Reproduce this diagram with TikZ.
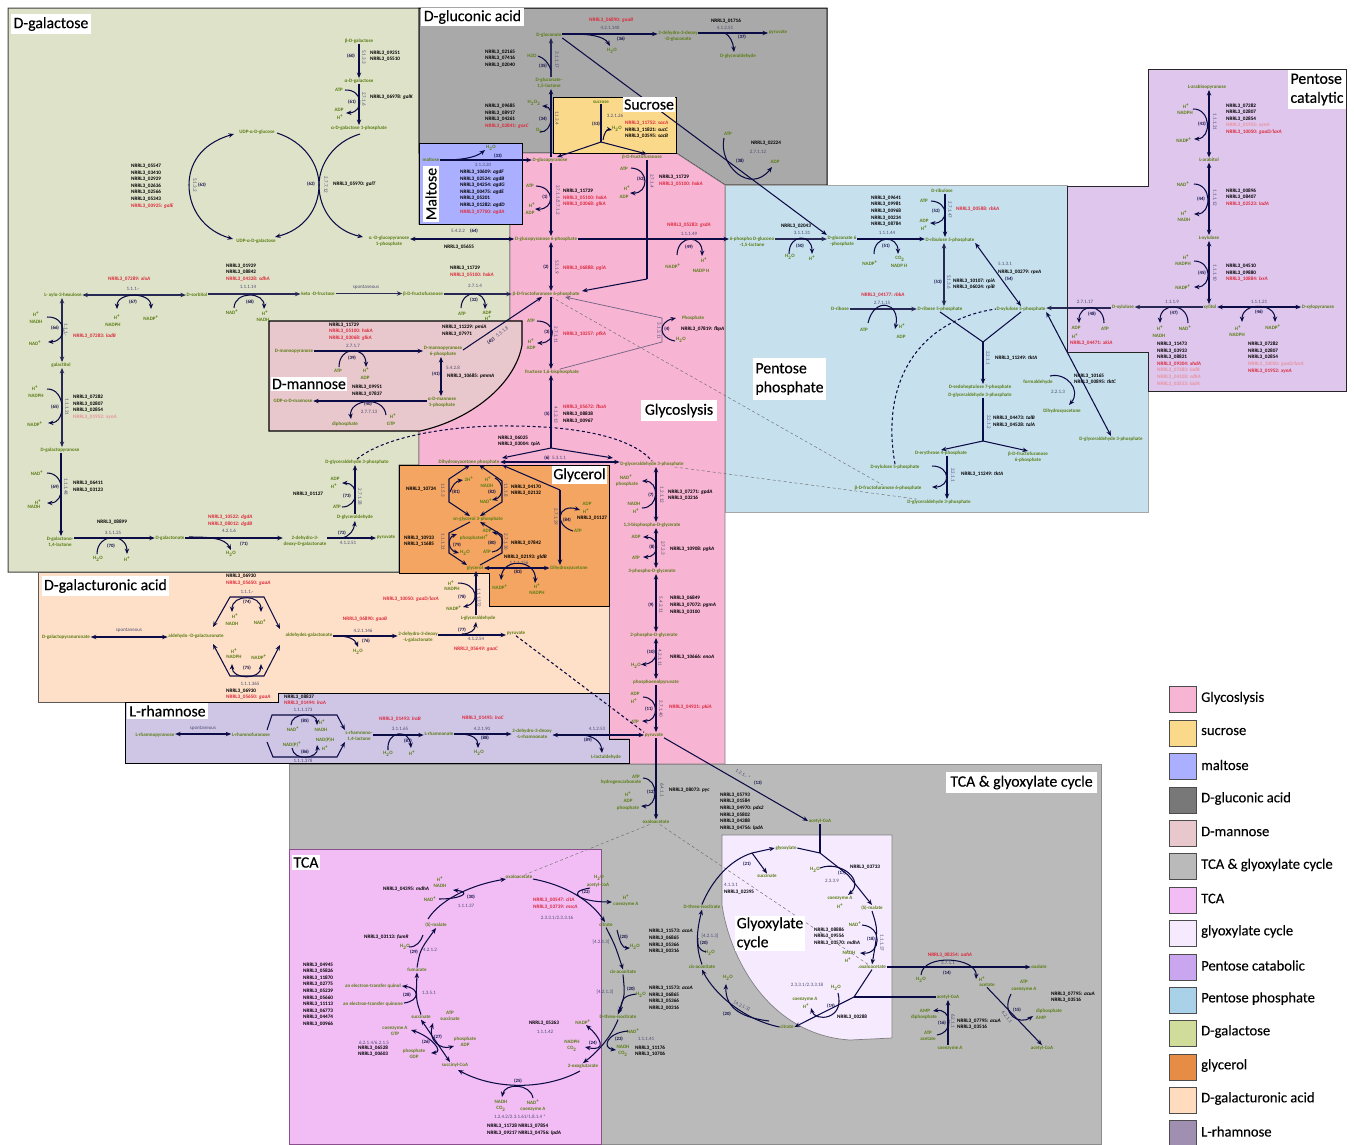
\documentclass[tikz,border=0pt]{standalone}
\usepackage{fontspec}
\setmainfont{Carlito}
\newfontfamily\ttfnt[FakeBold=0.3]{Carlito}
\newfontfamily\lgfnt[FakeBold=0.12]{Carlito}
\usetikzlibrary{arrows.meta,calc}
\definecolor{navy}{HTML}{0B0B45}
\definecolor{grn}{HTML}{5A7D14}
\definecolor{ecc}{HTML}{4C4C72}
\definecolor{redd}{HTML}{DC2A3C}
\definecolor{pale}{HTML}{E9929E}
\definecolor{cgal}{HTML}{DEE2C8}
\definecolor{cglu}{HTML}{A9A9A9}
\definecolor{csuc}{HTML}{FBD98A}
\definecolor{cmal}{HTML}{AAB0FF}
\definecolor{cpin}{HTML}{F7B4D3}
\definecolor{cppp}{HTML}{C7E0EE}
\definecolor{ccat}{HTML}{DEC6EC}
\definecolor{cman}{HTML}{E8C8CC}
\definecolor{cgly}{HTML}{F3A561}
\definecolor{cgua}{HTML}{FEDFC7}
\definecolor{crha}{HTML}{CFC6E6}
\definecolor{ctgc}{HTML}{BABABA}
\definecolor{ctca}{HTML}{F1BDF4}
\definecolor{cglx}{HTML}{F5EAFE}
\definecolor{lglu}{HTML}{787878}
\definecolor{lcat}{HTML}{C9A6EF}
\definecolor{lppp}{HTML}{A9D2E8}
\definecolor{lgal}{HTML}{D0DC9A}
\definecolor{lgly}{HTML}{E68C44}
\definecolor{lgua}{HTML}{FFDCBD}
\definecolor{lrha}{HTML}{A08FB0}
\newcount\nn
\newcommand\stp{\global\advance\nn by 1\relax}
\newcommand\Met[3]{\node[met] (#1) at (#2) {#3};}
\newcommand\Cfx[2]{\stp\node[met] (n\the\nn) at (#1) {#2};}
\newcommand\Gen[2]{\stp\node[gene] (n\the\nn) at (#1) {#2};}
\newcommand\GenC[2]{\stp\node[gene,anchor=center] (n\the\nn) at (#1) {#2};}
\newcommand\Ecn[2]{\stp\node[ecn] (n\the\nn) at (#1) {#2};}
\newcommand\Ecv[2]{\stp\node[ecn,rotate=-90] (n\the\nn) at (#1) {#2};}
\newcommand\Rxn[2]{\stp\node[rxn] (n\the\nn) at (#1) {(#2)};}
\newcommand\Hz[4]{\draw[#4] (#2.east |- 0,#1) -- (#3.west |- 0,#1);}
\newcommand\Vt[4]{\draw[#4] (#2.south -| #1,0) -- (#3.north -| #1,0);}
\newcommand\Arcb[4]{\stp\coordinate (s\the\nn) at (#1);\coordinate (e\the\nn) at (#2);
 \draw[#4] (s\the\nn) .. controls ($(s\the\nn)!#3!90:(e\the\nn)$) and ($(e\the\nn)!#3!-90:(s\the\nn)$) .. (e\the\nn);}
\newcommand\Curv[5]{\stp\coordinate (s\the\nn) at (#1);\coordinate (e\the\nn) at (#4);
 \draw[#5] (s\the\nn) .. controls (#2) and (#3) .. (e\the\nn);}
\newcommand\Ttl[5]{\node[ttl,minimum width=#3pt,minimum height=#4pt] (#1) at (#2) {#5};}
\newcommand\Nr[1]{NRRL3\_#1}
\newcommand\Gi[2]{NRRL3\_#1: \textit{#2}}
\newcommand\Rd[1]{\textcolor{redd}{#1}}
\newcommand\Pa[1]{\textcolor{pale}{#1}}
\newcommand\Hp{H\textsuperscript{+}}
\newcommand\NDp{NAD\textsuperscript{+}}
\newcommand\NPp{NADP\textsuperscript{+}}
\newcommand\Hw{H\textsubscript{2}O}
\newcommand\COt{CO\textsubscript{2}}
\newcommand\Leg[3]{\stp\node[lsw,fill=#2] (n\the\nn) at (1182.5,#1) {};\stp\node[ltx] (n\the\nn) at (1201,#1-1.5) {#3};}
\tikzset{
 >={Stealth[length=5.5pt,width=4.4pt]},
 met/.style={text=grn,font=\fontsize{5}{6.2}\selectfont\bfseries,align=center,inner sep=.8pt,outer sep=0pt},
 gene/.style={text=black,font=\fontsize{5.2}{6.6}\selectfont\bfseries,align=left,anchor=west,inner sep=0pt},
 ecn/.style={text=ecc,font=\fontsize{5}{6}\selectfont,inner sep=0pt},
 rxn/.style={text=navy,font=\fontsize{4.8}{6}\selectfont\bfseries,inner sep=0pt},
 ttl/.style={fill=white,text=black,font=\fontsize{15.8}{19}\ttfnt,align=left,inner sep=1pt},
 lsw/.style={draw=black!70,line width=.5pt,minimum width=27pt,minimum height=26pt,inner sep=0pt},
 ltx/.style={font=\fontsize{14.6}{17}\lgfnt,anchor=west,inner sep=0pt},
 conn/.style={draw=navy,line width=1.05pt},
 fw/.style={conn,->},
 bw/.style={conn,<-},
 bi/.style={conn,<->},
 pl/.style={conn},
 th/.style={line width=1.4pt,draw=navy!75!gray},
 dsh/.style={conn,dash pattern=on 3pt off 2.5pt},
 pd/.style={draw=gray!85!black,line width=.45pt,dash pattern=on 3pt off 2.5pt},
 pv/.style={draw=ecc!80!pink,line width=.7pt},
 pvf/.style={pv,->},
}
\begin{document}
\begin{tikzpicture}[x=1pt,y=-1pt]
\useasboundingbox (0,0) rectangle (1354,1144);
% ---------- regions ----------
\draw[fill=cgal,draw=black!75,line width=1pt] (8,8)--(419,8)--(419,224)--(510,224)--(510,330)--(419,431)--(419,465)--(399,465)--(399,572)--(8,572)--cycle;
\draw[fill=cglu,draw=black,line width=1pt] (419,8)--(827,8)--(827,185)--(725,185)--(676,153)--(419,153)--cycle;
\draw[fill=ctgc,draw=black!45,line width=.8pt] (289,764)--(1101,764)--(1101,1144)--(289,1144)--cycle;
\draw[fill=cppp,draw=black!35,line width=.8pt] (725,185)--(1067,185)--(1067,352)--(1148,352)--(1148,512)--(725,512)--cycle;
\draw[fill=cpin,draw=black!50,line width=.7pt] (510,224)--(510,153)--(676,153)--(725,185)--(725,764)--(629,764)--(629,739)--(609,739)--(609,606)--(419,606)--(419,431)--(510,330)--cycle;
\draw[fill=ccat,draw=black!85,line width=1pt] (1148,69)--(1346,69)--(1346,391)--(1148,391)--(1148,352)--(1067,352)--(1067,186)--(1148,186)--cycle;
\draw[fill=cman,draw=black,line width=1.1pt] (269,321)--(522,321)--(522,345) .. controls (515,385) and (470,420) .. (420,431)--(269,431)--cycle;
\draw[fill=csuc,draw=black,line width=1pt] (553,97) rectangle (676,153);
\draw[fill=cmal,draw=black,line width=1pt] (419.5,143) rectangle (522,224);
\draw[fill=cgua,draw=black!65,line width=1pt] (38,572)--(489,572)--(489,606)--(609,606)--(609,702)--(38,702)--cycle;
\draw[fill=crha,draw=black,line width=1pt] (125,702)--(278,702)--(278,693.5)--(609,693.5)--(609,739)--(629,739)--(629,763)--(125,763)--cycle;
\draw[fill=cgly,draw=black,line width=1pt] (399,465)--(609,465)--(609,606)--(489,606)--(489,573)--(399,573)--cycle;
\draw[fill=ctca,draw=black!40!ctca!70!violet,line width=.8pt] (289,849)--(601,849)--(601,1144)--(289,1144)--cycle;
\draw[fill=cglx,draw=black!50,line width=.7pt] (722,835)--(892,835)--(892,1038)--(850,1040) .. controls (770,1035) and (730,960) .. (722,905)--cycle;
% ---------- D-galactose ----------
\Met{bgal}{359,41}{β-D-galactose}
\Met{agal}{359,81}{α-D-galactose}
\Met{agalp}{359,128}{α-D-galactose 1-phosphate}
\Cfx{339,90}{ATP}\Cfx{339,110}{ADP}\Cfx{340,117}{\Hp}
\Gen{370,56}{\Nr{09251}\\\Nr{05510}}
\Ecv{364,57}{5.1.3.3}\Rxn{351,56}{60}\Rxn{352,102}{61}
\Gen{370,97}{\Gi{06978}{galK}}\Ecv{364,99}{2.7.1.6}
\Met{udpglc}{257,132}{UDP-α-D-glucose}
\Met{udpgal}{256,241}{UDP-α-D-galactose}
\Met{aglcp}{389,241}{α -D-glucopyranose\\1-phosphate}
\Rxn{311,184}{62}\Ecv{326,185}{2.7.7.12}\Gen{333,184}{\Gi{05970}{galT}}
\Rxn{202,185}{63}\Ecv{195,185}{5.1.3.2}
\Gen{131,186}{\Nr{05547}\\\Nr{03410}\\\Nr{02929}\\\Nr{02636}\\\Nr{02566}\\\Nr{05343}\\\Rd{\Gi{00925}{galE}}}
\Met{xylo}{63,295}{L- xylo-3-hexulose}
\Met{sorb}{197,295}{D-sorbitol}
\Met{keto}{318,294}{keto -D-fructose}
\Met{bfru}{423,294}{β-D-fructofuranose}
\Ecn{133,289}{1.1.1.-}\Gen{108,279}{\Rd{\Gi{07289}{xlxA}}}
\Cfx{117,317}{\Hp}\Cfx{113,325}{NADPH}\Cfx{151,318}{\NPp}\Rxn{133,302}{67}
\Ecn{248,287}{1.1.1.14}\Gen{226,272.5}{\Nr{01929}\\\Nr{08842}\\\Rd{\Gi{04328}{sdhA}}}
\Cfx{232,312}{\NDp}\Cfx{265,313}{\Hp}\Cfx{263,320}{NADH}\Rxn{250,302}{68}
\Ecn{366,287}{spontaneous}
\Met{galol}{61,365}{galactitol}
\Ecv{66,330}{1.1.1.-}\Rxn{55,328}{66}\Gen{73,336}{\Rd{\Gi{07283}{ladB}}}
\Cfx{36,314}{\Hp}\Cfx{36,322}{NADH}\Cfx{35,343}{\NDp}
\Met{galp}{60,450}{D-galactopyranose}
\Ecv{67,407}{1.1.1.21}\Rxn{55,407}{65}
\Cfx{35,388}{\Hp}\Cfx{36,396}{NADPH}\Cfx{35,424}{\NPp}
\Gen{73,407}{\Nr{07282}\\\Nr{02807}\\\Nr{02854}\\\Pa{\Gi{01952}{xynA}}}
\Met{galac}{60,542}{D-galactono-\\1,4-lactone}
\Ecv{66,487}{1.1.1.48}\Rxn{55,487}{69}
\Cfx{37,473}{\NDp}\Cfx{38,502}{\Hp}\Cfx{34,507}{NADH}
\Gen{73,486.5}{\Nr{06411}\\\Nr{03123}}
\Met{galn}{170,538}{D-galactonate}
\Ecn{113,533}{3.1.1.25}\GenC{112,522}{\Nr{08899}}\Rxn{111,546}{70}
\Cfx{98,559}{\Hw}\Cfx{127,559}{\Hp}
\Met{ddg}{305,541}{2-dehydro-3-\\deoxy-D-galactonate}
\Ecn{229,531}{4.2.1.6}\Gen{208,520.5}{\Rd{\Gi{10522}{dgdA}}\\\Rd{\Gi{08012}{dgdB}}}
\Rxn{244,544}{71}\Cfx{231,554}{\Hw}
\Met{pyr1}{386,537}{pyruvate}\Met{glya}{355,517}{D-glyceraldehyde}
\Ecn{348,543}{4.1.2.51}\Rxn{342,533}{72}
\Ecv{360,497}{2.7.1.28}\Rxn{347,496}{73}
\Cfx{335,479}{ADP}\Cfx{334,486}{\Hp}\Cfx{337,507}{ATP}\Gen{293,494}{\Nr{01127}}
\Met{g3pa}{357,462}{D-glyceraldehyde 3-phosphate}
% ---------- D-gluconic ----------
\Met{glcn}{549,35}{D-gluconate}
\Met{gluc}{550,160}{D-glucopyranose}
\Met{malt}{431,160}{maltose}
\Met{gl15}{549,83}{D-gluconate-\\1,5-lactone}
\Ecv{557,60}{3.1.1.17}\Cfx{532,56}{H2O}\Rxn{543,66}{35}
\Gen{485,58.5}{\Nr{02165}\\\Nr{07416}\\\Nr{02040}}
\Ecv{557,118}{1.1.3.4}\Rxn{543,119}{34}\Cfx{534,103}{H\textsubscript{2}O\textsubscript{2}}\Cfx{539,131}{O\textsubscript{2}}
\Gen{485,116}{\Nr{09685}\\\Nr{08917}\\\Nr{04261}\\\Rd{\Gi{02841}{goxC}}}
\Gen{589,20}{\Rd{\Gi{06890}{gaaB}}}\Ecn{610,28}{4.2.1.140}
\Met{ddgl}{678,36}{2-dehydro-3-deoxy\\-D-gluconate}
\Rxn{621,39}{36}\Cfx{612,51}{\Hw}
\Met{pyr2}{778,32}{pyruvate}\Ecn{725,28}{4.1.2.51}\GenC{726,21}{\Nr{01716}}\Rxn{742,37}{37}
\Met{glyb}{738,56}{D-glyceraldehyde}
\Cfx{728,134}{ATP}\Cfx{775,162}{ADP}\Rxn{740,161}{38}\GenC{766,143}{\Nr{02224}}\Ecn{758,152}{2.7.1.12}
% ---------- Sucrose / Maltose ----------
\Met{sucr}{601,102}{sucrose}
\Rxn{596,124}{53}\Ecn{615,116}{3.2.1.26}\Cfx{617,129}{\Hw}
\Gen{625,130}{\Rd{\Gi{11752}{sacA}}\\\Gi{11821}{sucC}\\\Gi{03595}{sacB}}
\Met{bfrf}{642,157}{β-D-fructofuranose}
\Cfx{491,148}{\Hw}\Rxn{498,156}{33}\Ecn{483,165}{3.1.3.20}
\Gen{460,192}{\Gi{10609}{agdF}\\\Gi{02524}{agdB}\\\Gi{04254}{agdG}\\\Gi{00475}{agdE}\\\Nr{05201}\\\Gi{01282}{agdD}\\\Rd{\Gi{07700}{agdA}}}
% ---------- Glycolysis ----------
\Ecv{652,181}{2.7.1.4}\Rxn{641,179}{52}\Cfx{624,169}{ATP}\Cfx{627,188}{\Hp}\Cfx{624,197}{ADP}
\Gen{659,180.5}{\Nr{11729}\\\Rd{\Gi{05100}{hxkA}}}
\Met{g6p}{546,239}{D-glucopyranose 6-phosphate}
\Ecv{558,200}{2.7.1.1/2.7.1.2}\Rxn{545,197}{1}\Cfx{530,186}{ATP}\Cfx{532,205}{\Hp}\Cfx{530,213}{ADP}
\Gen{563,198}{\Nr{11729}\\\Rd{\Gi{05100}{hxkA}}\\\Rd{\Gi{03068}{glkA}}}
\Met{pgl}{752,242}{6-phospho D-glucono\\-1,5-lactone}
\Ecn{689,234}{1.1.1.49}\GenC{689,225}{\Rd{\Gi{05283}{gsdA}}}\Rxn{689,247}{49}
\Cfx{673,266}{\NPp}\Cfx{704,260}{\Hp}\Cfx{701,271}{NADP H}
\Met{f6p}{546,294}{β-D-fructofuranose 6-phosphate}
\Ecv{557,267}{5.3.1.9}\Rxn{546,267}{2}\Gen{563,268}{\Rd{\Gi{06888}{pgiA}}}
\Ecn{458,231}{5.4.2.2}\Rxn{474,231}{64}\GenC{459,247}{\Nr{05655}}
\Ecn{475,286}{2.7.1.4}\Gen{450,271.5}{\Nr{11729}\\\Rd{\Gi{05100}{hxkA}}}
\Cfx{462,314}{ATP}\Cfx{487,313}{ADP}\Cfx{488,318}{\Hp}\Rxn{474,300}{32}
\Met{fbp}{552,372}{fructose 1,6-bisphosphate}
\Ecv{556,335}{2.7.1.11}\Rxn{547,332}{3}\Cfx{531,321}{ATP}\Cfx{531,341}{\Hp}\Cfx{531,348}{ADP}
\Gen{563,334}{\Rd{\Gi{10257}{pfkA}}}
\Ecv{659,331}{3.1.3.11}\Rxn{667,329}{4}\Met{phos}{693,318}{Phosphate}\Cfx{681,340}{\Hw}
\Gen{681,329}{\Gi{07819}{fbpA}}
\Ecv{556,415}{4.1.2.13}\Rxn{547,414}{5}
\Gen{563,414}{\Rd{\Gi{05672}{fbaA}}\\\Nr{08838}\\\Nr{00967}}
\Met{dhap}{469,462}{Dihydroxyacetone phosphate}
\Met{g3p}{652,464}{D-glyceraldehyde 3-phosphate}
\Rxn{547,458}{6}\Ecn{559,458}{5.3.1.1}\Gen{498,441}{\Nr{06025}\\\Gi{03004}{tpiA}}
\Ecv{662,495}{1.2.1.12}\Rxn{651,495}{7}
\Cfx{626,477}{\NDp}\Cfx{627,484}{phosphate}\Cfx{634,504}{NADH}\Cfx{636,511}{\Hp}
\Gen{668,495}{\Gi{07271}{gpdA}\\\Nr{03216}}
\Met{bpg}{652,525}{1,3-bisphospho-D-glycerate}
\Ecv{663,548}{2.7.2.3}\Rxn{652,547}{8}\Cfx{636,537}{ADP}\Cfx{636,558}{ATP}\Gen{670,549}{\Gi{10908}{pgkA}}
\Met{pg3}{652,571}{3-phospho-D-glycerate}
\Ecv{661,605}{5.4.2.11}\Rxn{651,605}{9}\Gen{670,605}{\Nr{06849}\\\Gi{07072}{pgmA}\\\Nr{03100}}
\Met{pg2}{654,635}{2-phospho-D-glycerate}
\Ecv{660,658}{4.2.1.11}\Rxn{651,652}{10}\Cfx{636,666}{\Hw}\Gen{670,657}{\Gi{10666}{enoA}}
\Met{pep}{656,682}{phosphoenolpyruvate}
\Ecv{661,709}{2.7.1.40}\Rxn{649,709}{11}\Cfx{635,694}{ADP}\Cfx{634,701}{\Hp}\Cfx{635,722}{ATP}
\Gen{669,707}{\Rd{\Gi{04921}{pkiA}}}
\Met{pyr}{654,735}{pyruvate}
\Ecv{662,790}{6.4.1.1}\Rxn{651,792}{12}
\Cfx{636,777}{ATP}\Cfx{621,782}{hydrogencarbonate}\Cfx{628,794}{\Hp}\Cfx{628,801}{ADP}\Cfx{628,808}{phosphate}
\Gen{669,790}{\Gi{08073}{pyc}}
\Met{oxa}{656,822}{oxaloacetate}
% ---------- D-mannose ----------
\Met{manp}{294,351}{D-mannopyranose}
\Gen{329,331.5}{\Nr{11729}\\\Rd{\Gi{05100}{hxkA}}\\\Rd{\Gi{03068}{glkA}}}
\Ecn{353,346}{2.7.1.7}\Rxn{352,358}{39}\Cfx{338,371}{ATP}\Cfx{366,370}{\Hp}\Cfx{365,378}{ADP}
\Gen{352,390.5}{\Nr{09951}\\\Nr{07837}}
\Met{gdpm}{293,401}{GDP-α-D-mannose}
\Ecn{369,412}{2.7.7.13}\Rxn{368,404}{40}\Cfx{345,424}{diphosphate}\Cfx{393,416}{\Hp}\Cfx{391,424}{GTP}
\Met{man6}{443,351}{D-mannopyranose\\6-phosphate}
\Met{man1}{442,402}{α-D-mannose\\1-phosphate}
\Ecn{453,368}{5.4.2.8}\Rxn{436,374}{41}\Gen{447,376}{\Gi{10685}{pmmA}}
\Gen{442,330.5}{\Gi{11229}{pmiA}\\\Nr{07971}}
\stp\node[ecn,rotate=37] (n\the\nn) at (502,332) {5.3.1.8};\stp\node[rxn,rotate=37] (n\the\nn) at (491,341) {(42)};
% ---------- Glycerol ----------
\Met{g3pol}{478,519}{sn-glycerol 3-phosphate}
\Met{glyc}{475,568}{glycerol}
\Met{dha}{569,568}{Dihydroxyacetone}
\Rxn{456,492}{81}\Ecv{443,490}{1.1.5.3}\Gen{406,489}{\Nr{10724}}\Cfx{469,479}{2H\textsuperscript{+}}
\Rxn{492,492}{82}\Cfx{488,479}{\Hp}\Cfx{487,486}{NADH}\Cfx{486,501}{\NDp}\Ecv{506,490}{1.1.1.8}
\Gen{511,490}{\Nr{04170}\\\Nr{02132}}
\Rxn{457,545}{79}\Cfx{471,538}{phosphate}\Cfx{465,553}{\Hw}\Ecv{443,542}{1.1.1.21}
\Gen{404,541}{\Nr{10933}\\\Nr{11685}}
\Rxn{492,543}{80}\Cfx{487,531}{ADP}\Cfx{485,537}{\Hp}\Cfx{487,552}{ATP}\Ecv{506,542}{2.7.1.30}\Gen{511,543}{\Nr{07842}}
\Gen{504,557}{\Gi{02193}{gldB}}\Ecn{519,563}{1.1.1.156}\Rxn{518,572}{83}
\Cfx{500,587}{\NPp}\Cfx{537,586}{\Hp}\Cfx{537,593}{NADPH}
\Ecv{556,517}{2.7.1.29}\Rxn{567,520}{84}\Cfx{587,504}{ADP}\Cfx{586,511}{\Hp}\Cfx{578,531}{ATP}\Gen{577,518}{\Nr{01127}}
% ---------- D-galacturonic ----------
\Met{gpu}{66,637}{D-galactopyranuronate}
\Ecn{129,630}{spontaneous}
\Met{ald}{196,636}{aldehydo -D-galacturonate}
\Met{alg}{309,635}{aldehydeL-galactonate}
\Ecn{247,592}{1.1.1.-}\Rxn{247,602}{74}\Gen{226,579.5}{\Nr{06930}\\\Rd{\Gi{05650}{gaaA}}}
\Cfx{235,616}{\Hp}\Cfx{232,624}{NADH}\Cfx{260,622}{\NDp}
\Cfx{234,651}{\Hp}\Cfx{234,657}{NADPH}\Cfx{259,657}{\NPp}\Rxn{247,668}{75}\Ecn{250,684}{1.1.1.365}
\Gen{226,694}{\Nr{06930}\\\Rd{\Gi{05650}{gaaA}}}
\Met{dlg}{418,637}{2-dehydro-3-deoxy\\-L-galactonate}
\Ecn{363,631}{4.2.1.146}\GenC{365,619}{\Rd{\Gi{06890}{gaaB}}}\Rxn{366,641}{76}\Cfx{358,652}{\Hw}
\Met{lgl}{478,618}{L-glyceraldehyde}
\Met{pyr3}{516,633}{pyruvate}
\Rxn{462,630}{77}\Ecn{476,639}{4.1.2.54}\GenC{476,649}{\Rd{\Gi{05649}{gaaC}}}
\Ecv{479,598}{1.1.1.372}\Rxn{462,597}{78}\Cfx{451,583}{\Hp}\Cfx{452,589}{NADPH}\Cfx{454,608}{\NPp}
\Gen{383,599}{\Rd{\Gi{10050}{gaaD/larA}}}
% ---------- L-rhamnose ----------
\Met{rhp}{155,735}{L-rhamnopyranose}\Ecn{203,728}{spontaneous}\Met{rhf}{251,735}{L-rhamnofuranose}
\Ecn{303,710}{1.1.1.173}\Gen{284,700}{\Nr{08837}\\\Rd{\Gi{01494}{lraA}}}
\Rxn{305,721}{85}\Cfx{293,729}{\NDp}\Cfx{322,722}{\Hp}\Cfx{321,730}{NADH}
\Rxn{305,752}{86}\Cfx{292,744}{NAD(P)\textsuperscript{+}}\Cfx{325,740}{NAD(P)H}\Cfx{325,748}{\Hp}\Ecn{303,761}{1.1.1.378}
\Met{rhl}{359,736}{L-rhamnono-\\1,4-lactone}
\Ecn{400,729}{3.1.1.65}\GenC{400,719}{\Rd{\Gi{01493}{lraB}}}\Rxn{408,741}{87}\Cfx{388,754}{\Hw}\Cfx{412,753}{\Hp}
\Met{rhn}{439,734}{L-rhamnonate}
\Ecn{482,729}{4.2.1.90}\GenC{483,718}{\Rd{\Gi{01495}{lraC}}}\Rxn{485,738}{88}\Cfx{479,753}{\Hw}
\Met{drh}{532,734}{2-dehydro-3-deoxy\\-L-rhamnonate}
\Ecn{597,729}{4.1.2.53}\Rxn{588,740}{89}\Met{lac}{606,757}{L-lactaldehyde}
% ---------- Pentose phosphate ----------
\Ecn{802,233}{3.1.1.31}\GenC{796,226}{\Nr{02043}}\Rxn{800,246}{50}\Cfx{790,257}{\Hw}\Cfx{812,258}{\Hp}
\Met{g6pa}{842,241}{D-gluconate 6\\-phosphate}
\Ecn{887,233}{1.1.1.44}\Gen{871,211}{\Nr{09641}\\\Nr{09981}\\\Nr{00968}\\\Nr{00234}\\\Nr{08784}}\Rxn{886,246}{51}
\Cfx{870,263}{\NPp}\Cfx{900,259}{\COt}\Cfx{899,266}{NADP H}
\Met{rbl}{942,191}{D-ribulose}
\Ecv{950,210}{2.7.1.47}\Rxn{936,211}{52}\Cfx{924,201}{ATP}\Cfx{924,221}{ADP}\Cfx{924,228}{\Hp}\Gen{956,209}{\Rd{\Gi{00588}{rbkA}}}
\Met{r5p}{950,240}{D-ribulose 5-phosphate}
\Ecv{949,282}{5.1.3.6}\Rxn{938,282}{53}\Gen{953,284}{\Gi{10107}{rpiA}\\\Gi{06024}{rpiB}}
\Met{rib5}{940,309}{D-ribose 5-phosphate}
\Met{rib}{840,309}{D-ribose}
\Ecn{882,303}{2.7.1.15}\GenC{883,295}{\Rd{\Gi{04177}{rbkA}}}\Cfx{864,330}{ATP}\Cfx{902,326}{\Hp}\Cfx{901,337}{ADP}
\Met{xu5}{1021,309}{D-xylulose 5-phosphate}
\Ecn{1005,264}{5.1.3.1}\Gen{998,272}{\Gi{00279}{rpeA}}\Rxn{1009,279}{54}
\Ecv{988,358}{2.2.1.1}\Gen{995,358}{\Gi{11249}{tktA}}
\Met{s7p}{980,387}{D-sedoheptulose 7-phosphate}
\Met{g3b}{980,395}{D-glyceraldehyde 3-phosphate}
\Ecv{989,422}{2.2.1.2}\Gen{993,421.5}{\Gi{04473}{talB}\\\Gi{04528}{talA}}
\Met{e4p}{941,453}{D-erythrose 4-phosphate}
\Met{f6b}{1028,457}{β-D-fructofuranose\\6-phosphate}
\Met{xu5b}{895,467}{D-xylulose 5-phosphate}
\Met{f6c}{888,488}{β-D-fructofuranose 6-phosphate}
\Met{g3c}{939,502}{D-glyceraldehyde 3-phosphate}
\Ecv{953,475}{2.2.1.1}\Gen{961,474}{\Gi{11249}{tktA}}
\Met{form}{1038,382}{formaldehyde}\Met{dhab}{1062,411}{Dihydroxyacetone}\Ecn{1058,392}{2.2.1.3}
\Gen{1074,379}{\Nr{10165}\\\Gi{00895}{tktC}}
\Met{g3d}{1111,439}{D-glyceraldehyde 3-phosphate}
% ---------- Pentose catabolic ----------
\Met{arap}{1207,87}{L-arabinopyranose}
\Ecv{1215,122}{1.1.1.21}\Rxn{1202,124}{43}\Cfx{1186,106}{\Hp}\Cfx{1185,113}{NADPH}\Cfx{1184,140}{\NPp}
\Gen{1226,119}{\Nr{07282}\\\Nr{02807}\\\Nr{02854}\\\Pa{\Gi{01952}{xynA}}\\\Rd{\Gi{10050}{gaaD/larA}}}
\Met{arab}{1209,160}{L-arabitol}
\Ecv{1215,198}{1.1.1.12}\Rxn{1201,199}{44}\Cfx{1183,184}{\NDp}\Cfx{1184,213}{\Hp}\Cfx{1184,220}{NADH}
\Gen{1226,197.5}{\Nr{00896}\\\Nr{08407}\\\Rd{\Gi{02523}{ladA}}}
\Met{lxu}{1209,238}{L-xylulose}
\Ecv{1215,273}{1.1.1.10}\Rxn{1202,273}{45}\Cfx{1186,257}{\Hp}\Cfx{1183,264}{NADPH}\Cfx{1183,287}{\NPp}
\Gen{1226,273}{\Nr{04510}\\\Nr{09880}\\\Rd{\Gi{10884}{lxrA}}}
\Met{xyl}{1210,307}{xylitol}
\Met{dxu}{1123,307}{D-xylulose}
\Ecn{1172,302}{1.1.1.9}\Rxn{1174,313}{47}\Cfx{1160,328}{\Hp}\Cfx{1159,336}{NADH}\Cfx{1185,328}{\NDp}
\Met{xylp}{1318,307}{D-xylopyranose}
\Ecn{1259,302}{1.1.1.21}\Rxn{1259,312}{46}\Cfx{1238,328}{\Hp}\Cfx{1237,335}{NADPH}\Cfx{1273,327}{\NPp}
\Ecn{1085,302}{2.7.1.17}\Rxn{1092,314}{48}\Cfx{1105,329}{ATP}\Cfx{1076,328}{ADP}\Cfx{1075,336}{\Hp}
\Gen{1070,343}{\Rd{\Gi{04471}{xkiA}}}
\Gen{1157,364}{\Nr{11473}\\\Nr{03933}\\\Nr{08821}\\\Rd{\Gi{09304}{xhdA}}\\\Pa{\Gi{07283}{ladB}}\\\Pa{\Gi{04328}{sdhA}}\\\Pa{\Gi{02523}{ladA}}}
\Gen{1248,357.5}{\Nr{07282}\\\Nr{02807}\\\Nr{02854}\\\Pa{\Gi{10050}{gaaD/larA}}\\\Rd{\Gi{01952}{xynA}}}
% ---------- TCA ----------
\Met{oxt}{519,877}{oxaloacetate}
\Met{mlt}{436,925}{(S)-malate}
\Met{fum}{417,970}{fumarate}
\Met{suc}{421,1017}{succinate}
\Met{scoa}{455,1065}{succinyl-CoA}
\Met{ogl}{583,1066}{2-oxoglutarate}
\Met{cit}{606,925}{citrate}
\Met{cis}{623,972}{cis-aconitate}
\Met{iso}{618,1017}{D-threo-isocitrate}
\Rxn{471,897}{30}\Cfx{430,899}{\NDp}\Cfx{440,879}{\Hp}\Cfx{440,886}{NADH}\Ecn{466,906}{1.1.1.37}\Gen{383,889}{\Gi{04395}{mdhA}}
\Rxn{414,952}{29}\Cfx{405,947}{\Hw}\Ecn{430,950}{4.2.1.2}\Gen{364,937}{\Gi{03113}{fumR}}
\Rxn{407,995}{28}\Cfx{373,986}{an electron-transfer quinol}\Cfx{373,1004}{an electron-transfer quinone}\Ecn{429,993}{1.3.5.1}
\Gen{303,994.5}{\Nr{04945}\\\Nr{05826}\\\Nr{11870}\\\Nr{02775}\\\Nr{05239}\\\Nr{05660}\\\Nr{11113}\\\Nr{06773}\\\Nr{04474}\\\Nr{00966}}
\Rxn{438,1037}{27}\Cfx{450,1013}{ATP}\Cfx{450,1019}{succinate}\Cfx{465,1039}{phosphate}\Cfx{465,1045}{ADP}
\Rxn{426,1042}{26}\Cfx{395,1028}{coenzyme A}\Cfx{395,1034}{GTP}\Ecn{374,1043}{6.2.1.4/6.2.1.5}
\Gen{358,1051}{\Nr{06528}\\\Nr{00603}}\Cfx{414,1051}{phosphate}\Cfx{414,1057}{GDP}
\Rxn{518,1081}{25}\Cfx{501,1102}{NADH}\Cfx{501,1109}{\COt}\Cfx{533,1102}{\NDp}\Cfx{533,1109}{coenzyme A}
\Ecn{520,1117}{1.2.4.2/2.3.1.61/1.8.1.4 *}\Gen{487,1129.5}{\Nr{11728} \Nr{07854}\\\Nr{09217} \Gi{04756}{lpdA}}
\Rxn{593,1043}{24}\Cfx{583,1022}{\NPp}\Cfx{572,1042}{NADPH}\Cfx{572,1049}{\COt}\GenC{544,1023}{\Nr{05263}}\Ecn{545,1032}{1.1.1.42}
\Rxn{619,1039}{23}\Cfx{633,1031}{\NDp}\Cfx{623,1047}{NADH}\Cfx{623,1054}{\COt}\Ecn{646,1039}{1.1.1.41}\Gen{635,1051}{\Nr{11176}\\\Nr{10706}}
\Rxn{586,892}{22}\Cfx{599,878}{\Hw}\Cfx{598,885}{acetyl-CoA}\Cfx{626,897}{\Hp}\Cfx{626,904}{coenzyme A}
\Gen{533,903.5}{\Rd{\Gi{00547}{citA}}\\\Rd{\Gi{03739}{mscA}}}\Ecn{557,918}{2.3.3.1/2.3.3.16}
\Ecn{601,942}{[4.2.1.3]}\Ecn{605,992}{[4.2.1.3]}
\Rxn{624,937}{20}\Cfx{635,947}{\Hw}\Gen{649,941.5}{\Gi{11573}{acoA}\\\Nr{06865}\\\Nr{05366}\\\Nr{00316}}
\Rxn{631,989}{20}\Cfx{641,995}{\Hw}\Gen{649,998}{\Gi{11573}{acoA}\\\Nr{06865}\\\Nr{05366}\\\Nr{00316}}
% ---------- Glyoxylate ----------
\Met{acoa}{820,821}{acetyl-CoA}
\stp\node[ecn,rotate=-30] (n\the\nn) at (743,774) {1.2.1.- *};\Rxn{758,783}{13}
\Gen{720,811.5}{\Nr{05793}\\\Nr{01584}\\\Gi{04970}{pdx2}\\\Nr{05802}\\\Nr{04388}\\\Gi{04756}{lpdA}}
\Met{glx}{786,848}{glyoxylate}
\Met{mal2}{872,908}{(S)-malate}
\Rxn{842,873}{17}\Cfx{815,870}{\Hw}\Ecn{832,881}{2.3.3.9}\Gen{850,867}{\Nr{03733}}\Cfx{840,898}{coenzyme A}\Cfx{840,906}{\Hp}
\Ecv{882,943}{1.1.1.37}\Rxn{871,939}{18}\Cfx{855,924}{\NDp}\Cfx{849,953}{NADH}\Cfx{848,960}{\Hp}
\Gen{814,936.5}{\Nr{08886}\\\Nr{09556}\\\Gi{03570}{mdhA}}
\Met{oxg}{872,967}{.oxaloacetate}
\Rxn{831,1006}{19}\Gen{837,1017}{\Nr{00288}}\Ecn{807,985}{2.3.3.1/2.3.3.18}\Cfx{836,988}{\Hw}\Cfx{805,999}{coenzyme A}\Cfx{806,1006}{\Hp}
\Met{cit2}{787,1027}{citrate}
\Met{acb}{948,997}{acetyl-CoA}
\Met{cis2}{702,967}{cis-aconitate}
\Met{iso2}{702,907}{D-threo-isocitrate}
\Met{scc}{767,876}{succinate}
\Rxn{747,864}{21}\Ecn{731,885}{4.1.3.1}\Gen{724,892}{\Nr{02395}}
\Ecn{710,936}{[4.2.1.3]}\Rxn{704,943}{20}\Cfx{710,953}{\Hw}
\Cfx{728,978}{\Hw}\stp\node[ecn,rotate=-25] (n\the\nn) at (742,1006) {[4.2.1.3]};\Rxn{727,1014}{20}
\Met{oxl}{1039,967}{oxalate}
\Ecn{948,963}{3.7.1.1}\GenC{950,955}{\Rd{\Gi{08354}{oahA}}}\Rxn{947,973}{14}\Cfx{921,980}{\Hw}\Cfx{982,979}{\Hp}
\Met{ace}{987,985}{acetate}
\Met{acc}{1042,1048}{acetyl-CoA}
\stp\node[ecn,rotate=-52] (n\the\nn) at (1007,1017) {6.2.1.1};\Rxn{1017,1010}{15}
\Cfx{1024,982}{ATP}\Cfx{1024,989}{coenzyme A}\Cfx{1049,1011}{diphosphate}\Cfx{1041,1018}{AMP}
\Gen{1051,997}{\Gi{07795}{acuA}\\\Nr{03516}}
\Met{coa}{950,1048}{coenzyme A}
\Ecv{953,1021}{6.2.1.1}\Rxn{942,1023}{16}\Cfx{925,1011}{AMP}\Cfx{924,1017}{diphosphate}\Cfx{928,1033}{ATP}\Cfx{928,1039}{acetate}
\Gen{957,1024}{\Gi{07795}{acuA}\\\Nr{03516}}
% ========== connectors ==========
% pale cross links
\draw[pd] (f6p) -- (f6c);
\draw[pd] (g3p) -- (g3c);
\draw[pd] (oxa) -- (oxt);
\draw[pd] (oxa) -- (oxg);
\Vt{359}{bgal}{agal}{fw}\Vt{359}{agal}{agalp}{fw}
\Arcb{345,90}{346,113}{.8}{fw}
\Curv{234,134}{200,144}{189,165}{189,185}{bw}
\Curv{189,185}{189,210}{205,231}{233,239}{fw}
\Curv{277,133}{305,142}{319,165}{319,185}{pl}
\Curv{319,185}{319,210}{335,231}{363,237}{fw}
\Curv{360,134}{333,142}{319,165}{319,185}{pl}
\Curv{319,185}{319,210}{303,230}{275,237}{fw}
\Hz{295}{xylo}{sorb}{bi,th}\Hz{294}{sorb}{keto}{fw,th}\Hz{293.5}{keto}{bfru}{fw,th}
\Arcb{117,309}{151,309}{.51}{bi}
\Arcb{234,308}{264,309}{.58}{fw}
\Vt{62}{xylo}{galol}{bi,th}\Arcb{47,317}{48,342}{.8}{fw}
\Vt{62}{galol}{galp}{bi,th}\Arcb{47,389}{48,423}{.55}{fw}
\Vt{61}{galp}{galac}{fw}\Arcb{47,473}{47,503}{.62}{fw}
\Hz{538}{galac}{galn}{fw}\Arcb{97,554}{127,554}{.71}{fw}
\Hz{538}{galn}{ddg}{fw}
\Curv{189,537}{210,537}{225,538}{231,550}{fw}
\Hz{538}{ddg}{pyr1}{fw}
\Curv{342,538}{350,536}{354,530}{355,521}{fw}
\Vt{355}{g3pa}{glya}{bw}
\Arcb{342,507}{342,483}{-.72}{fw}
\draw[dsh] (g3pa.north) .. controls (390,432) and (470,425) .. (510,426) .. controls (570,426) and (630,435) .. (g3p.north);
% gluconic
\Hz{160}{malt}{gluc}{fw}
\Curv{443,160}{460,160}{475,158}{485,150}{fw}
\draw[fw] (gluc.north -| 551,0) -- (gl15.south -| 551,0);
\draw[fw,th] (gl15.north -| 551,0) -- (glcn.south -| 551,0);
\Curv{538,56}{544,58}{548,62}{551,70}{pl}
\Arcb{540,132}{542,106}{-.5}{fw}
\Hz{34}{glcn}{ddgl}{fw}
\Curv{570,34}{590,34}{604,36}{610,46}{fw}
\Hz{33}{ddgl}{pyr2}{fw}
\Curv{725,33}{730,36}{733,42}{734,52}{fw}
\draw[fw] (glcn.south east) -- (g6pa.north west);
\Curv{724,138}{718,165}{750,195}{772,167}{fw}
% sucrose
\coordinate (ysuc) at (601,142);
\draw[pl] (sucr) -- (ysuc);
\draw[fw] (ysuc) -- (gluc.north -| 557,0);
\draw[fw] (ysuc) -- (bfrf.north -| 647,0);
\Curv{603,140}{604,133}{607,129}{612,130}{fw}
\coordinate (kfru) at (647,279);
\draw[pl] (bfrf.south -| 647,0) -- (kfru);
\draw[fw] (kfru) -- (f6p.north -| 582,0);
\Arcb{631,168}{630,193}{.75}{fw}
% glycolysis
\Vt{551}{gluc}{g6p}{fw}\Arcb{536,186}{535,209}{.85}{fw}
\Hz{239}{g6p}{pgl}{fw}\Arcb{677,255}{702,256}{.85}{fw}
\Vt{551}{g6p}{f6p}{bi}
\Hz{239}{aglcp}{g6p}{bi}
\Hz{294}{bfru}{f6p}{fw,th}\Arcb{461,308}{485,309}{.8}{fw}
\Vt{551}{f6p}{fbp}{fw}\Arcb{537,321}{537,343}{.9}{fw}
\draw[pv] (fbp.north -| 560,0) -- (662,342) coordinate (fb1);
\draw[pvf] (fb1) -- (662,318) coordinate (fb2) -- (f6p.south -| 565,0);
\Curv{675,341}{658,338}{658,322}{676,318}{fw}
\coordinate (ald1) at (551,448);
\draw[fw] (ald1) -- (fbp.south -| 551,0);
\draw[fw] (ald1) -- (502,458);
\draw[fw] (ald1) -- (613,458);
\Hz{462}{dhap}{g3p}{bi}
\Vt{656}{g3p}{bpg}{bi}\Arcb{642,481}{642,508}{.65}{bw}
\Vt{656}{bpg}{pg3}{bi}\Arcb{643,537}{643,557}{.85}{bi}
\Vt{656}{pg3}{pg2}{bi}
\Vt{656}{pg2}{pep}{bi}\Curv{656,655}{655,660}{650,664}{641,664.5}{fw}
\Vt{656}{pep}{pyr}{fw}\Arcb{643,697}{642,721}{.7}{fw}
\Vt{656}{pyr}{oxa}{fw}\Arcb{643,778}{641,806}{.6}{fw}
\draw[fw] (pyr.south east) -- (acoa.west);
% mannose
\Hz{351}{manp}{man6}{fw}\Arcb{339,367}{366,367}{.79}{fw}
\Hz{401}{gdpm}{man1}{bw}\Arcb{386,415}{351,419}{-.57}{fw}
\Vt{441}{man6}{man1}{bi}
\draw[fw] (man6.east |- 0,350) -- (f6p.south -| 542,0);
% glycerol
\draw[bi] (dhap.south -| 470,0) -- (449,479) -- (449,502) -- (g3pol.north -| 470,0);
\draw[bi] (dhap.south -| 479,0) -- (502,481) -- (502,502) -- (g3pol.north -| 480,0);
\Curv{450,492}{452,486}{456,481}{463,480}{fw}
\Curv{495,478}{504,482}{504,497}{492,500}{fw}
\draw[fw] (g3pol.south -| 470,0) -- (449,533) -- (449,553) -- (glyc.north -| 467,0);
\draw[bw] (g3pol.south -| 480,0) -- (502,535) -- (502,553) -- (glyc.north -| 480,0);
\Curv{457,534}{447,538}{448,550}{459,553}{bi}
\Curv{492,552}{506,550}{505,535}{492,532}{fw}
\Hz{568}{glyc}{dha}{bi}\Arcb{501,580}{535,583}{.68}{bi}
\coordinate (dh1) at (560,490);
\draw[bw] (dhap.south -| 502,0) -- (dh1);
\draw[fw] (dh1) -- (dha.north -| 560,0);
\Curv{573,531}{553,525}{558,503}{580,510}{fw}
% galacturonic
\Hz{637}{gpu}{ald}{bi}
\draw[bi] (213,627) -- (230,597) coordinate (h1) -- (264,597) coordinate (h2) -- (280,629);
\draw[bi] (213,644) -- (230,676) coordinate (h3) -- (264,676) coordinate (h4) -- (280,645);
\Arcb{232,612}{261,612}{.62}{bi}
\Arcb{232,664}{261,664}{-.55}{bi}
\Hz{636}{alg}{dlg}{fw}
\Curv{337,636}{348,636}{355,639}{358,647}{fw}
\Hz{635}{dlg}{pyr3}{fw}
\Curv{462,634}{470,634}{475,630}{476,622}{fw}
\draw[fw] (lgl.north -| 476,0) -- (glyc.south -| 476,0);
\Curv{458,583}{478,583}{480,603}{463,607}{fw}
\draw[dsh] (pyr3.south) -- (pyr.north west);
% rhamnose
\Hz{734}{rhp}{rhf}{bi}
\coordinate (rht) at (267,730);\coordinate (rhb) at (267,742);
\draw[fw] (rht) -- (272,715) -- (337,715) -- (rhl.north west);
\draw[fw] (rhb) -- (273,757) -- (337,757) -- (rhl.south west);
\Arcb{291,725}{317,725}{.5}{fw}
\Arcb{292,748}{317,745}{-.55}{fw}
\Hz{735}{rhl}{rhn}{fw}\Arcb{388,750}{411,748}{.85}{fw}
\Hz{734}{rhn}{drh}{fw}\Curv{462,734}{472,735}{478,738}{478,748}{fw}
\Hz{735}{drh}{pyr}{bi}\Curv{583,735}{593,736}{601,741}{602,753}{fw}
% pentose phosphate
\Hz{239}{pgl}{g6pa}{fw,th}\Arcb{789,254}{812,254}{.9}{fw}
\Hz{239}{g6pa}{r5p}{fw}\Arcb{874,254}{898,254}{.8}{fw}
\Vt{945}{rbl}{r5p}{fw}\Arcb{931,201}{930,223}{.85}{fw}
\Vt{944}{r5p}{rib5}{bi,th}
\Hz{309}{rib}{rib5}{fw,th}\Arcb{868,323}{895,329}{1}{fw}
\draw[bi] (r5p.south east) -- (xu5.north);
\Hz{308}{xu5}{dxu}{bw,th}\Arcb{1104,323}{1079,323}{-.8}{fw}
\coordinate (ytk) at (983,342);
\draw[pl] (rib5.south) -- (ytk);
\draw[pl] (xu5.south) -- (ytk);
\draw[fw,line width=1.2pt] (ytk) -- (s7p.north -| 983,0);
\coordinate (ytl) at (983,441);
\draw[pl] (g3b.south -| 983,0) -- (ytl);
\draw[fw] (ytl) -- (e4p.north);
\draw[fw] (ytl) -- (f6b.north);
\Vt{947}{e4p}{g3c}{fw}\Arcb{932,466}{932,487}{.9}{fw}
\draw[dsh] (xu5b.north) .. controls (880,380) and (920,320) .. (xu5.west);
\Curv{1050,376}{1066,372}{1082,390}{1069,405}{fw}
\draw[bi] (g3d.north) -- (xu5.south east);
% catabolic
\Vt{1209}{arap}{arab}{bi}\Arcb{1193,109}{1194,139}{.6}{fw}
\Vt{1209}{arab}{lxu}{bi}\Arcb{1194,184}{1194,214}{.6}{fw}
\Vt{1209}{lxu}{xyl}{bi}\Arcb{1194,261}{1194,287}{.7}{fw}
\Hz{307}{dxu}{xyl}{bw,th}\Arcb{1188,323}{1160,323}{-.75}{fw}
\Hz{307}{xyl}{xylp}{bi}\Arcb{1242,322}{1275,322}{.6}{bi}
% TCA
\Curv{428,919}{440,900}{470,885}{506,879}{fw}
\draw[fw] (fum.north) .. controls (420,950) .. (mlt.south);
\draw[fw] (suc.north) .. controls (416,1000) .. (fum.south);
\draw[bi] (suc.south) -- (scoa.north -| 450,0);
\Curv{580,1071}{545,1090}{495,1090}{458,1070}{fw}
\Curv{533,879}{565,885}{590,900}{605,922}{fw}
\draw[fw] (cit.south) .. controls (615,945) .. (cis.north);
\draw[fw] (cis.south) .. controls (625,995) .. (iso.north);
\draw[fw] (iso.south) .. controls (612,1035) and (600,1050) .. (ogl.north);
\Curv{439,899}{462,899}{472,892}{453,890}{fw}
\Curv{409,947}{417,947}{421,941}{423,935}{pl}
\Curv{404,1003}{420,1001}{420,988}{402,986}{fw}
\Curv{433,1023}{428,1040}{440,1050}{454,1046}{bi}
\Curv{411,1030}{430,1036}{445,1052}{431,1053}{bi}
\Curv{533,1098}{530,1083}{505,1083}{502,1097}{fw}
\Curv{586,1025}{600,1037}{608,1052}{585,1047}{bi}
\Curv{628,1031}{606,1033}{602,1048}{616,1050}{fw}
\Curv{590,888}{565,892}{580,902}{612,902}{fw}
\Curv{617,930}{620,942}{622,948}{630,948}{fw}
\Curv{636,994}{622,996}{622,1000}{620,1012}{fw}
% glyoxylate
\coordinate (jk) at (820,853);
\draw[pl] (acoa.south -| 820,0) -- (jk);
\draw[pl] (glx.east) -- (jk);
\draw[fw] (jk) -- (848,875) coordinate (jk2) -- (mal2.north);
\Curv{820,868}{840,860}{865,880}{848,895}{fw}
\draw[fw] (mal2.south) .. controls (878,930) .. (oxg.north);
\Arcb{862,925}{860,953}{.75}{fw}
\coordinate (ct1) at (854,997);
\draw[fw] (oxg.south) -- (ct1) -- (cit2.east);
\draw[pl] (ct1) -- (acb.west);
\Curv{838,993}{845,1020}{815,1022}{811,1008}{fw}
\draw[fw] (cit2.west) .. controls (745,1020) and (715,995) .. (cis2.south);
\draw[fw] (cis2.north) .. controls (695,945) and (697,930) .. (iso2.south);
\coordinate (ic1) at (752,853);
\draw[fw] (iso2.north) .. controls (712,880) and (730,860) .. (ic1) -- (glx.west);
\draw[fw] (ic1) -- (scc.north);
\Curv{706,952}{698,950}{697,945}{698,938}{pl}
\Curv{769,1021}{745,1018}{725,1010}{726,984}{fw}
\Hz{967}{oxg}{oxl}{fw}
\Arcb{921,975}{976,979}{.4}{fw}
\draw[fw] (ace.south) -- (acc.north);
\Curv{1011,994}{1000,1015}{1020,1025}{1033,1016}{fw}
\draw[fw] (coa.north -| 948,0) -- (acb.south -| 948,0);
\Arcb{937,1035}{933,1011}{-.75}{fw}
% ---------- titles ----------
\Ttl{t1}{51,24}{80}{20}{D-galactose}
\Ttl{t2}{472.5,17}{103}{18}{D-gluconic acid}
\Ttl{t3}{649,104.5}{52}{15}{Sucrose}
\stp\node[ttl,rotate=90,minimum width=56pt,minimum height=16pt] (n\the\nn) at (431,194) {Maltose};
\Ttl{t5}{1317,89.5}{58}{39}{Pentose\\catalytic}
\Ttl{t6}{789.5,379}{73}{42}{Pentose\\phosphate}
\Ttl{t7}{309,384}{76}{14}{D-mannose}
\Ttl{t8}{679,410.5}{76}{21}{Glycoslysis}
\Ttl{t9}{579.5,475}{55}{18}{Glycerol}
\Ttl{t10}{105.5,586}{127}{20}{D-galacturonic acid}
\Ttl{t11}{167.5,711}{81}{16}{L-rhamnose}
\Ttl{t12}{306,862.5}{28}{15}{TCA}
\Ttl{t13}{1021.5,782.5}{151}{21}{TCA \& glyoxylate cycle}
\Ttl{t14}{770,933.5}{70}{35}{Glyoxylate\\cycle}
% ---------- legend ----------
\Leg{699.5}{cpin}{Glycoslysis}
\Leg{733}{csuc}{sucrose}
\Leg{766.5}{cmal}{maltose}
\Leg{800}{lglu}{D-gluconic acid}
\Leg{833}{cman}{D-mannose}
\Leg{866.5}{ctgc}{TCA \& glyoxylate cycle}
\Leg{900}{ctca}{TCA}
\Leg{933}{cglx}{glyoxylate cycle}
\Leg{967}{lcat}{Pentose catabolic}
\Leg{1000}{lppp}{Pentose phosphate}
\Leg{1033}{lgal}{D-galactose}
\Leg{1067}{lgly}{glycerol}
\Leg{1100}{lgua}{D-galacturonic acid}
\Leg{1133}{lrha}{L-rhamnose}
\end{tikzpicture}
\end{document}
